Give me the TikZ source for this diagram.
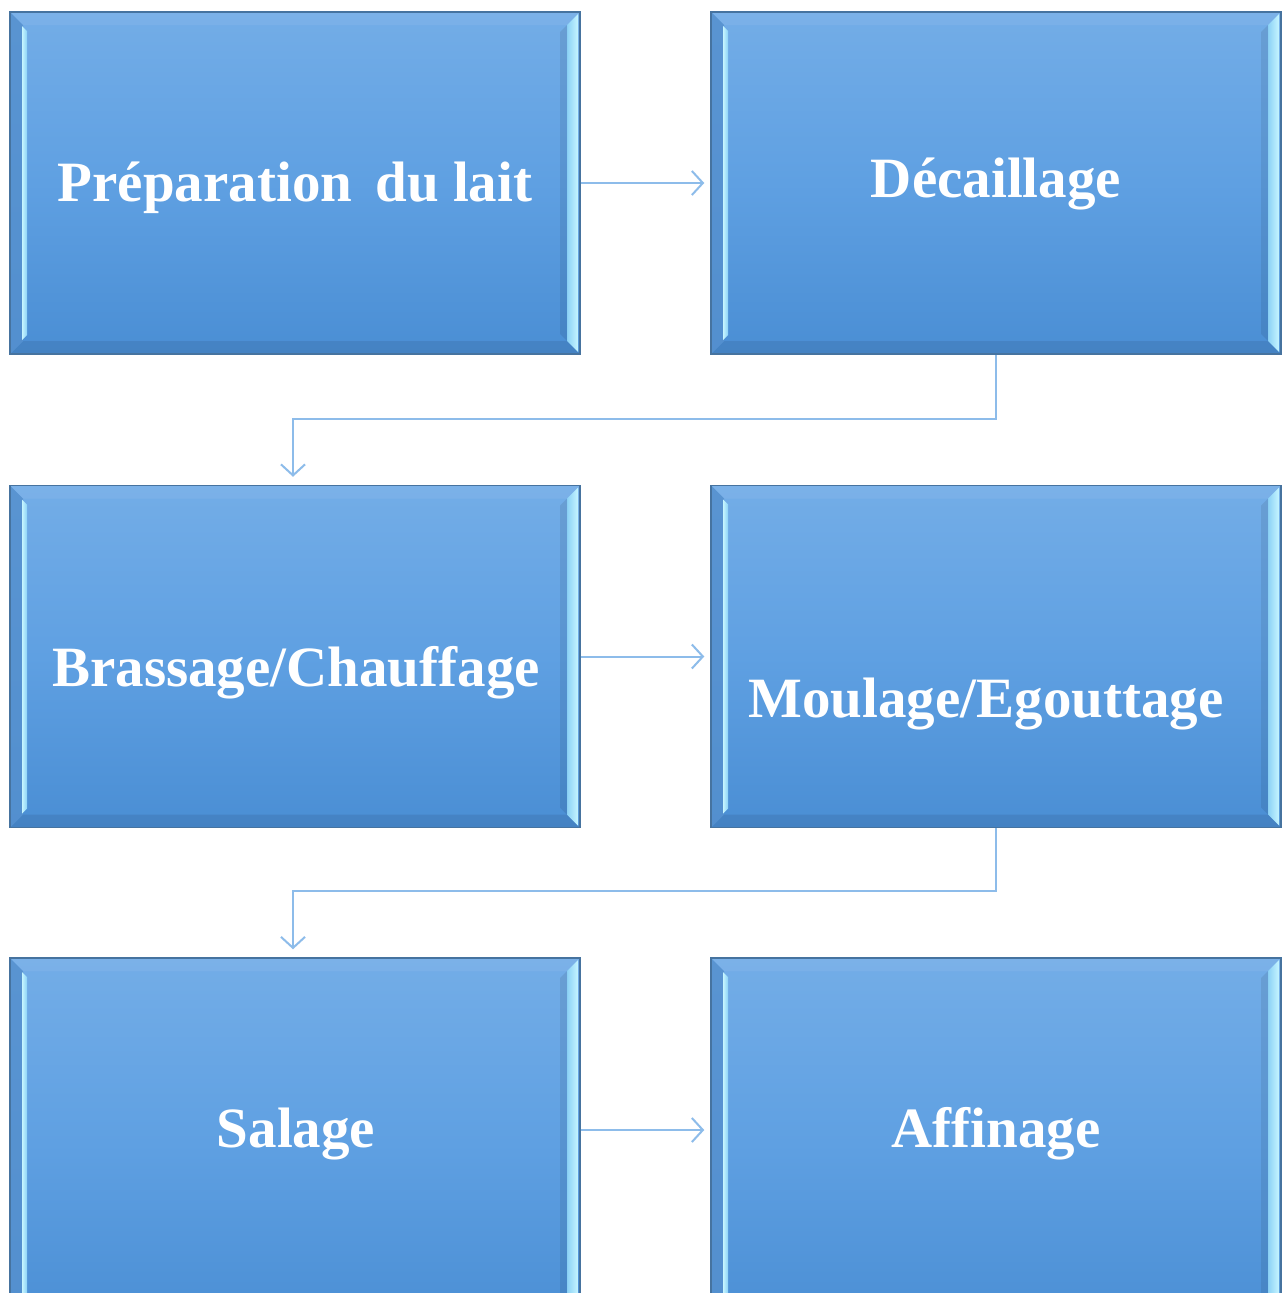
\documentclass[tikz,border=0pt]{standalone}
\usepackage{fontspec}
\setmainfont{Liberation Serif}
\usetikzlibrary{calc,arrows.meta}
\definecolor{bxtop}{HTML}{73ADE7}
\definecolor{bxmid}{HTML}{5FA0E2}
\definecolor{bxbot}{HTML}{4A8ED4}
\definecolor{bxborder}{HTML}{46739F}
\definecolor{bvdark}{HTML}{5590CE}
\definecolor{bvlight}{HTML}{C6F5FF}
\definecolor{bvmidl}{HTML}{8CD2F6}
\definecolor{arr}{HTML}{8DBCEA}
\tikzset{
  bevbox/.style={rectangle, minimum width=570pt, minimum height=342pt, inner sep=0pt,
    top color=bxtop, bottom color=bxbot, middle color=bxmid,
    draw=bxborder, line width=1.5pt,
    path picture={
      \coordinate (NW) at (path picture bounding box.north west);
      \coordinate (NE) at (path picture bounding box.north east);
      \coordinate (SW) at (path picture bounding box.south west);
      \coordinate (SE) at (path picture bounding box.south east);
      \fill[white,opacity=0.06] (NW) -- (NE) -- ($(NE)+(-13pt,-13pt)$) -- ($(NW)+(13pt,-13pt)$) -- cycle;
      \fill[black,opacity=0.08] (SW) -- (SE) -- ($(SE)+(-13pt,13pt)$) -- ($(SW)+(13pt,13pt)$) -- cycle;
      \fill[bvdark,opacity=0.85] (NW) -- ($(NW)+(13pt,-13pt)$) -- ($(SW)+(13pt,13pt)$) -- (SW) -- cycle;
      \shade[left color=bvlight, right color=bvmidl] ($(NW)+(12pt,-14pt)$) -- ($(NW)+(17pt,-19pt)$) -- ($(SW)+(17pt,19pt)$) -- ($(SW)+(12pt,14pt)$) -- cycle;
      \shade[left color=bvmidl, right color=bvlight] ($(NE)+(-13pt,-13pt)$) -- ($(NE)+(-2pt,-2pt)$) -- ($(SE)+(-2pt,2pt)$) -- ($(SE)+(-13pt,13pt)$) -- cycle;
      \fill[black,opacity=0.08] ($(NE)+(-20pt,-20pt)$) -- ($(NE)+(-13pt,-13pt)$) -- ($(SE)+(-13pt,13pt)$) -- ($(SE)+(-20pt,20pt)$) -- cycle;
    }},
  lastrow/.style={minimum height=370pt},
  lbl/.style={anchor=base, text=white, font=\fontsize{57pt}{60pt}\selectfont\bfseries, inner sep=0pt},
  conn/.style={draw=arr, line width=2pt, -{Straight Barb[length=11pt,width=24pt,line width=2pt]}}
}
\begin{document}
\begin{tikzpicture}[x=1pt,y=-1pt]
\useasboundingbox (0,0) rectangle (1285,1293);
\clip (0,0) rectangle (1285,1293);
\fill[white] (0,0) rectangle (1285,1293);
\node[bevbox] (b1) at (295,183) {};
\node[bevbox] (b2) at (996,183) {};
\node[bevbox] (b3) at (295,656.5) {};
\node[bevbox] (b4) at (996,656.5) {};
\node[bevbox,lastrow] (b5) at (295,1143) {};
\node[bevbox,lastrow] (b6) at (996,1143) {};
\node[lbl] (t1) at (295,201) {Préparation\hspace{9pt} du lait};
\node[lbl] (t2) at (996,197) {Décaillage};
\node[lbl] (t3) at (296,686) {Brassage/Chauffage};
\node[lbl] (t4) at (986,717) {Moulage/Egouttage};
\node[lbl] (t5) at (296,1147) {Salage};
\node[lbl] (t6) at (996,1147) {Affinage};
\coordinate (e1) at (996,419);
\coordinate (e2) at (293,419);
\coordinate (e3) at (996,891);
\coordinate (e4) at (293,891);
\draw[conn] (b1.east) -- ([xshift=-6pt]b2.west);
\draw[conn] (b3.east) -- ([xshift=-6pt]b4.west);
\draw[conn] ([yshift=13pt]b5.east) -- ([xshift=-6pt,yshift=13pt]b6.west);
\draw[conn] (b2.south) -- (e1) -- (e2) -- ([yshift=8pt]e2 |- b3.north);
\draw[conn] (b4.south) -- (e3) -- (e4) -- ([yshift=8pt]e4 |- b5.north);
\end{tikzpicture}
\end{document}
